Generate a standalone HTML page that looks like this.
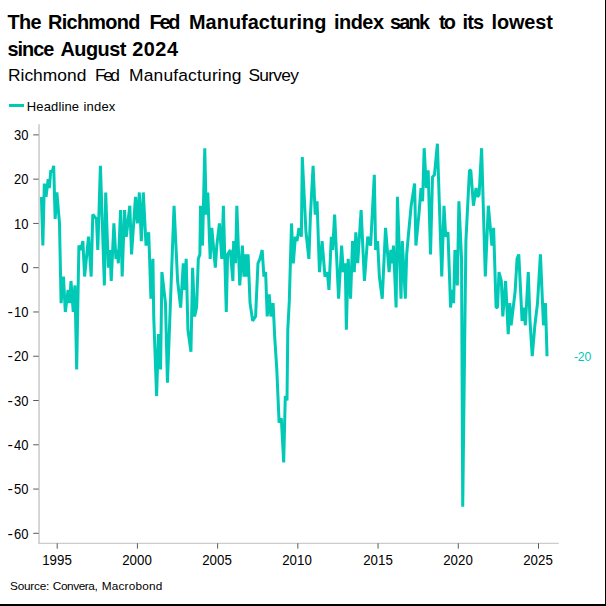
<!DOCTYPE html>
<html><head><meta charset="utf-8">
<style>
html,body{margin:0;padding:0;background:#fff;}
body{width:606px;height:606px;position:relative;overflow:hidden;font-family:"Liberation Sans",sans-serif;color:#000;}
.t{position:absolute;white-space:nowrap;line-height:1;}
.yl{font-size:14px;text-align:right;width:28.4px;left:0;transform:scaleX(0.925);transform-origin:100% 50%;}
.xl{font-size:14px;text-align:center;width:40px;transform:scaleX(0.948);transform-origin:50% 50%;}
#bR{position:absolute;left:605px;top:0;width:1px;height:606px;background:#000;}
#bB{position:absolute;left:0;top:604px;width:606px;height:2px;background:#000;}
.m{display:inline-block;transform:scaleX(1.25);transform-origin:100% 50%;margin-right:1.3px;}
svg{position:absolute;left:0;top:0;}
</style></head><body>
<div class="t" style="left:7.50px;top:13.05px;font-size:19.9px;letter-spacing:-0.691px;font-weight:bold;">The</div><div class="t" style="left:48.00px;top:13.05px;font-size:19.9px;letter-spacing:-0.684px;font-weight:bold;">Richmond</div><div class="t" style="left:149.50px;top:13.05px;font-size:19.9px;letter-spacing:-2.191px;font-weight:bold;">Fed</div><div class="t" style="left:189.00px;top:13.05px;font-size:19.9px;letter-spacing:0.034px;font-weight:bold;">Manufacturing</div><div class="t" style="left:334.00px;top:13.05px;font-size:19.9px;letter-spacing:-0.495px;font-weight:bold;">index</div><div class="t" style="left:390.00px;top:13.05px;font-size:19.9px;letter-spacing:-1.797px;font-weight:bold;">sank</div><div class="t" style="left:439.00px;top:13.05px;font-size:19.9px;letter-spacing:-1.786px;font-weight:bold;">to</div><div class="t" style="left:462.50px;top:13.05px;font-size:19.9px;letter-spacing:-0.862px;font-weight:bold;">its</div><div class="t" style="left:491.50px;top:13.05px;font-size:19.9px;letter-spacing:-0.126px;font-weight:bold;">lowest</div><div class="t" style="left:7.40px;top:39.85px;font-size:19.9px;letter-spacing:-0.996px;font-weight:bold;">since</div><div class="t" style="left:60.50px;top:39.85px;font-size:19.9px;letter-spacing:-0.547px;font-weight:bold;">August</div><div class="t" style="left:132.20px;top:39.85px;font-size:19.9px;letter-spacing:0.508px;font-weight:bold;">2024</div><div class="t" style="left:7.90px;top:66.97px;font-size:17.4px;letter-spacing:0.038px;">Richmond</div><div class="t" style="left:95.00px;top:66.97px;font-size:17.4px;letter-spacing:-2.490px;">Fed</div><div class="t" style="left:129.00px;top:66.97px;font-size:17.4px;letter-spacing:0.186px;">Manufacturing</div><div class="t" style="left:248.50px;top:66.97px;font-size:17.4px;letter-spacing:-0.730px;">Survey</div><div class="t" style="left:26.80px;top:99.60px;font-size:13px;letter-spacing:0.127px;">Headline</div><div class="t" style="left:83.50px;top:99.60px;font-size:13px;letter-spacing:0.179px;">index</div><div class="t" style="left:10.10px;top:581.01px;font-size:11.8px;letter-spacing:-0.244px;">Source:</div><div class="t" style="left:52.80px;top:581.01px;font-size:11.8px;letter-spacing:-0.426px;">Convera,</div><div class="t" style="left:101.70px;top:581.01px;font-size:11.8px;letter-spacing:0.208px;">Macrobond</div><div class="t" style="left:573.90px;top:350.67px;font-size:12.2px;letter-spacing:-0.115px;color:#00c9b6;">-20</div>
<div class="t yl" style="top:128.14px">30</div><div class="t yl" style="top:172.41px">20</div><div class="t yl" style="top:216.68px">10</div><div class="t yl" style="top:260.95px">0</div><div class="t yl" style="top:305.22px"><span class="m">-</span>10</div><div class="t yl" style="top:349.49px"><span class="m">-</span>20</div><div class="t yl" style="top:393.76px"><span class="m">-</span>30</div><div class="t yl" style="top:438.03px"><span class="m">-</span>40</div><div class="t yl" style="top:482.30px"><span class="m">-</span>50</div><div class="t yl" style="top:526.57px"><span class="m">-</span>60</div>
<div class="t xl" style="left:36.85px;top:553.15px">1995</div><div class="t xl" style="left:117.07px;top:553.15px">2000</div><div class="t xl" style="left:197.28px;top:553.15px">2005</div><div class="t xl" style="left:277.49px;top:553.15px">2010</div><div class="t xl" style="left:357.71px;top:553.15px">2015</div><div class="t xl" style="left:437.92px;top:553.15px">2020</div><div class="t xl" style="left:518.14px;top:553.15px">2025</div>
<svg width="606" height="606" viewBox="0 0 606 606">
<rect x="9" y="104" width="15" height="3" fill="#00c9b6"/>
<line x1="39.05" y1="124.3" x2="39.05" y2="543.9" stroke="#d0d0d0" stroke-width="1.7"/>
<line x1="38.2" y1="543.3" x2="558.7" y2="543.3" stroke="#ccc" stroke-width="1.25"/>
<g stroke="#5a5a5a" stroke-width="1"><line x1="33.2" y1="134.89" x2="38.6" y2="134.89"/><line x1="33.2" y1="179.16" x2="38.6" y2="179.16"/><line x1="33.2" y1="223.43" x2="38.6" y2="223.43"/><line x1="33.2" y1="267.70" x2="38.6" y2="267.70"/><line x1="33.2" y1="311.97" x2="38.6" y2="311.97"/><line x1="33.2" y1="356.24" x2="38.6" y2="356.24"/><line x1="33.2" y1="400.51" x2="38.6" y2="400.51"/><line x1="33.2" y1="444.78" x2="38.6" y2="444.78"/><line x1="33.2" y1="489.05" x2="38.6" y2="489.05"/><line x1="33.2" y1="533.32" x2="38.6" y2="533.32"/></g>
<g stroke="#5a5a5a" stroke-width="1"><line x1="57.20" y1="543.3" x2="57.20" y2="548.7"/><line x1="137.42" y1="543.3" x2="137.42" y2="548.7"/><line x1="217.63" y1="543.3" x2="217.63" y2="548.7"/><line x1="297.84" y1="543.3" x2="297.84" y2="548.7"/><line x1="378.06" y1="543.3" x2="378.06" y2="548.7"/><line x1="458.27" y1="543.3" x2="458.27" y2="548.7"/><line x1="538.49" y1="543.3" x2="538.49" y2="548.7"/></g>
<polyline fill="none" stroke="#00c9b6" stroke-width="3" stroke-linejoin="bevel" points="41.41,196.87 42.86,245.56 44.32,183.59 46.03,196.87 48.15,179.16 49.33,188.01 50.79,170.31 52.11,172.52 53.69,165.88 55.14,219.00 56.86,192.44 59.50,223.43 61.08,303.12 63.46,276.55 65.31,311.97 68.08,289.83 69.66,303.12 70.98,280.98 73.23,311.97 74.94,285.41 76.66,369.52 78.90,245.56 80.88,249.99 82.86,241.14 84.58,276.55 88.54,236.71 91.18,276.55 92.77,214.58 96.46,219.00 97.78,249.99 100.42,165.88 104.38,285.41 105.70,192.44 108.34,267.70 109.93,249.99 111.25,280.98 113.89,223.43 115.96,258.85 117.28,249.99 118.34,263.27 120.58,210.15 122.17,276.55 124.54,210.15 126.26,236.71 129.82,205.72 131.54,254.42 135.50,196.87 137.35,223.43 139.33,192.44 141.31,241.14 143.29,192.44 146.06,245.56 148.70,232.28 150.94,298.69 152.92,258.85 153.72,316.40 156.62,396.08 158.47,334.11 160.58,369.52 161.90,272.13 165.47,303.12 167.45,382.80 174.05,205.72 177.61,280.98 180.65,307.54 183.29,263.27 184.34,289.83 186.19,258.85 187.91,329.68 190.94,351.81 192.62,267.70 194.60,316.40 196.58,307.54 198.30,258.85 199.88,254.42 200.54,205.72 202.52,245.56 204.77,148.17 206.22,214.58 207.80,192.44 210.18,258.85 211.76,227.86 215.33,267.70 216.78,245.56 219.42,223.43 221.80,258.85 223.38,205.72 226.28,311.97 227.60,254.42 230.24,249.99 232.88,280.98 233.68,241.14 235.52,263.27 236.84,205.72 239.75,285.41 242.39,245.56 243.97,276.55 245.43,254.42 246.75,276.55 248.07,254.42 250.05,303.12 252.69,320.82 255.59,316.40 257.97,263.27 259.95,258.85 262.19,249.99 263.91,276.55 265.62,272.13 267.21,316.40 269.20,294.26 270.90,316.40 273.10,303.12 274.80,338.53 276.80,369.52 279.10,422.64 281.30,418.22 283.70,462.49 285.30,396.08 287.00,400.51 287.80,329.68 289.30,300.90 291.50,223.43 293.31,263.27 295.42,236.71 297.00,241.14 298.98,227.86 301.36,236.71 302.28,157.03 305.98,232.28 308.88,258.85 310.47,214.58 313.11,165.88 315.22,214.58 317.07,201.29 319.45,272.13 322.09,241.14 324.99,276.55 327.37,272.13 328.95,289.83 331.33,236.71 332.65,249.99 334.63,214.58 338.59,298.69 341.62,245.56 343.30,272.13 345.28,263.27 346.34,329.68 348.18,258.85 350.56,298.69 352.54,241.14 354.26,272.13 355.84,232.28 357.69,263.27 361.12,210.15 364.42,280.98 367.72,236.71 370.63,245.56 374.32,174.73 375.64,249.99 377.62,241.14 379.34,276.55 382.24,298.69 385.54,227.86 389.11,272.13 390.83,249.99 392.15,263.27 393.47,245.56 396.11,307.54 397.43,196.87 400.99,298.69 402.31,241.14 405.35,298.69 406.67,254.42 408.65,232.28 411.16,205.72 414.59,183.59 415.91,245.56 418.90,214.58 421.02,188.01 422.60,201.29 424.18,148.17 426.30,188.01 428.15,170.31 430.52,254.42 432.50,176.95 434.48,174.73 437.39,143.74 441.74,276.55 443.99,205.72 445.70,236.71 447.95,232.28 450.59,307.54 452.04,289.83 453.62,303.12 454.94,249.99 457.32,285.41 458.90,201.29 461.54,258.85 462.73,506.76 465.90,241.14 469.47,170.31 470.79,170.31 473.43,205.72 476.07,188.01 477.52,196.87 479.10,194.65 481.61,148.17 485.31,276.55 488.34,205.72 491.91,245.56 493.62,227.86 496.07,307.54 497.52,307.54 498.98,272.13 501.35,280.98 502.81,316.40 505.58,280.98 508.22,334.11 509.80,303.12 511.12,325.25 515.08,292.05 517.06,258.85 518.78,254.42 522.08,320.82 523.66,307.54 525.38,325.25 528.28,272.13 530.00,320.82 532.24,356.24 534.88,325.25 537.52,303.12 540.43,254.42 543.47,325.25 545.45,303.12 547.03,356.24"/>
</svg>
<div id="bR"></div><div id="bB"></div>
</body></html>
